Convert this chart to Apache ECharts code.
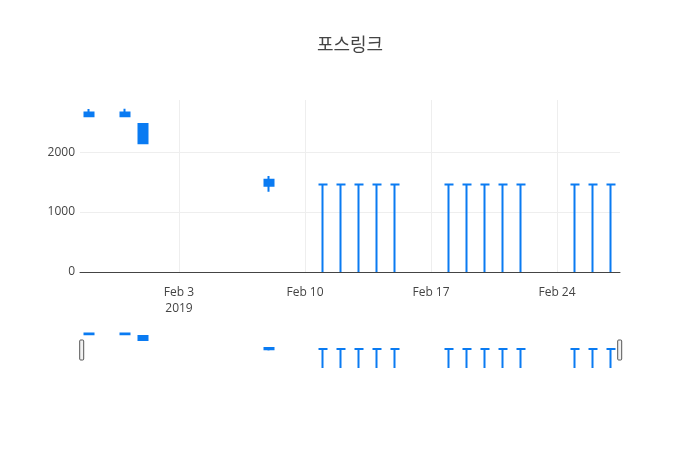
<!DOCTYPE html>
<html><head><meta charset="utf-8">
<script src="https://cdn.jsdelivr.net/npm/echarts@6/dist/echarts.min.js"></script>
<style>html,body{margin:0;padding:0;background:#fff}#c{width:700px;height:450px}</style>
</head><body><div id="c"></div>
<script>
const title = '포스링크';
const dates = ['2019-01-29','2019-01-31','2019-02-01','2019-02-08',
  '2019-02-11','2019-02-12','2019-02-13','2019-02-14','2019-02-15',
  '2019-02-18','2019-02-19','2019-02-20','2019-02-21','2019-02-22',
  '2019-02-25','2019-02-26','2019-02-27'];
const opens  = [2600,2600,2470,1540,1460,1460,1460,1460,1460,1460,1460,1460,1460,1460,1460,1460,1460];
const closes = [2660,2660,2150,1440,1460,1460,1460,1460,1460,1460,1460,1460,1460,1460,1460,1460,1460];
const lows   = [2590,2590,2150,1340,0,0,0,0,0,0,0,0,0,0,0,0,0];
const highs  = [2720,2725,2470,1600,1460,1460,1460,1460,1460,1460,1460,1460,1460,1460,1460,1460,1460];
const xTicks = ['2019-02-03','2019-02-10','2019-02-17','2019-02-24'];
const yTicks = [0,1000,2000];

const MONTHS = ['Jan','Feb','Mar','Apr','May','Jun','Jul','Aug','Sep','Oct','Nov','Dec'];
function toTs(s){ const p = s.split('-').map(Number); return new Date(p[0], p[1]-1, p[2]).getTime(); }
const DAY = 86400000;
const data = dates.map((d,i)=>[toTs(d), opens[i], closes[i], lows[i], highs[i]]);
const xMin = toTs(dates[0]) - DAY/2;
const xMax = toTs(dates[dates.length-1]) + DAY/2;
const xTickTs = xTicks.map(toTs);
const firstTick = xTickTs[0];
function fmt(v){
  const d = new Date(v);
  let s = MONTHS[d.getMonth()] + ' ' + d.getDate();
  if (Math.abs(v - firstTick) < 1000) s += '\n' + d.getFullYear();
  return s;
}
const BLUE = '#0a7bf2';
const font = '"Open Sans", "Noto Sans CJK KR", sans-serif';
const itemStyle = {color: BLUE, color0: BLUE, borderColor: BLUE, borderColor0: BLUE, borderWidth: 2};

const chart = echarts.init(document.getElementById('c'));
chart.setOption({
  animation: false,
  backgroundColor: '#fff',
  title: {text: title, left: 'center', top: 32,
    textStyle: {fontSize: 18, fontWeight: 'normal', color: '#444', fontFamily: font}},
  grid: [
    {left: 80, right: 80, top: 100, height: 172},
    {left: 80, right: 80, top: 331, height: 37}
  ],
  xAxis: [
    {type: 'value', gridIndex: 0, min: xMin, max: xMax, scale: true,
     axisLine: {show: true, onZero: false, lineStyle: {color: '#444', width: 1}},
     axisTick: {show: false, customValues: xTickTs},
     axisLabel: {customValues: xTickTs, formatter: fmt, color: '#444', fontSize: 12,
       fontFamily: font, margin: 13, lineHeight: 16},
     splitLine: {show: true, lineStyle: {color: '#eee', width: 1}}},
    {type: 'value', gridIndex: 1, min: xMin, max: xMax, scale: true, show: false}
  ],
  yAxis: [
    {type: 'value', gridIndex: 0, min: 0, max: 2870, interval: 1000,
     axisLine: {show: false}, axisTick: {show: false},
     axisLabel: {color: '#444', fontSize: 12, fontFamily: font, margin: 5, showMaxLabel: false,
       formatter: v => (yTicks.indexOf(v) >= 0 ? String(v) : '')},
     splitLine: {show: true, showMaxLine: false, lineStyle: {color: '#eee', width: 1}}},
    {type: 'value', gridIndex: 1, min: 0, max: 2850, show: false}
  ],
  dataZoom: [{
    type: 'slider', xAxisIndex: [0, 1], filterMode: 'none', start: 0, end: 100,
    left: 80, right: 80, top: 330, height: 40,
    showDataShadow: false, showDetail: false, brushSelect: false, moveHandleSize: 0,
    borderColor: 'transparent', backgroundColor: 'transparent', fillerColor: 'rgba(0,0,0,0)',
    handleIcon: 'path://M1,0 h2 a1,1 0 0 1 1,1 v18 a1,1 0 0 1 -1,1 h-2 a1,1 0 0 1 -1,-1 v-18 a1,1 0 0 1 1,-1 z',
    handleSize: '50%',
    handleStyle: {color: '#f2f2f2', borderColor: '#555', borderWidth: 1},
    emphasis: {handleStyle: {color: '#f2f2f2', borderColor: '#555', borderWidth: 1}},
    textStyle: {color: 'transparent'}
  }],
  series: [
    {type: 'candlestick', xAxisIndex: 0, yAxisIndex: 0, data: data,
     encode: {x: 0, y: [1, 2, 3, 4]}, barWidth: 9, itemStyle: itemStyle, silent: true},
    {type: 'candlestick', xAxisIndex: 1, yAxisIndex: 1, data: data,
     encode: {x: 0, y: [1, 2, 3, 4]}, barWidth: 9, itemStyle: itemStyle, silent: true}
  ]
});
</script>
</body></html>
